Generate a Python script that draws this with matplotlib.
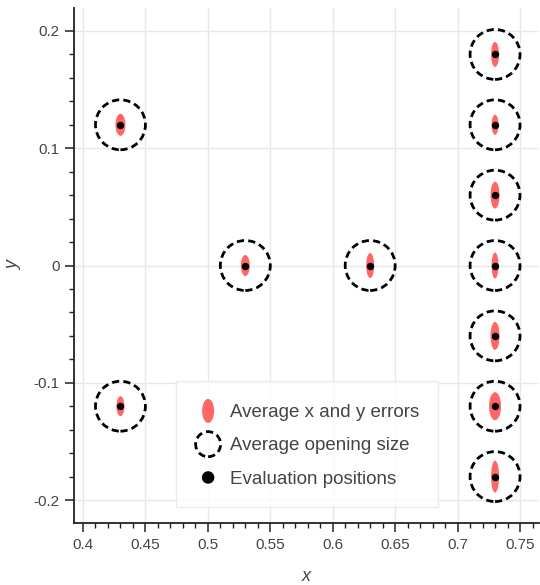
import matplotlib
matplotlib.use("Agg")
import matplotlib.pyplot as plt
from matplotlib.patches import Ellipse
from matplotlib.legend_handler import HandlerPatch
from matplotlib.ticker import MultipleLocator, FuncFormatter

# ---- data ----
x_pos = [0.43, 0.43, 0.53, 0.63, 0.73, 0.73, 0.73, 0.73, 0.73, 0.73, 0.73]
y_pos = [0.12, -0.12, 0.0, 0.0, 0.18, 0.12, 0.06, 0.0, -0.06, -0.12, -0.18]
x_err = [0.0080, 0.0064, 0.0072, 0.0064, 0.0064, 0.0056, 0.0072, 0.0056, 0.0072, 0.0096, 0.0064]
y_err = [0.0188, 0.0171, 0.0179, 0.0213, 0.0213, 0.0171, 0.0230, 0.0222, 0.0239, 0.0239, 0.0273]
opening = [0.04] * len(x_pos)
x_ticks = [0.4, 0.45, 0.5, 0.55, 0.6, 0.65, 0.7, 0.75]
y_ticks = [-0.2, -0.1, 0.0, 0.1, 0.2]
legend_labels = ["Average x and y errors", "Average opening size", "Evaluation positions"]

plt.rcParams['font.family'] = ['Liberation Sans', 'DejaVu Sans']

W, H = 540, 585
fig = plt.figure(figsize=(W / 100, H / 100), dpi=100)
L, R, B, T = 74, 539, 523, 8
ax = fig.add_axes([L / W, 1 - B / H, (R - L) / W, (B - T) / H])
xlim = (0.3928, 0.7652)
ylim = (-0.2196, 0.2196)
ax.set_xlim(*xlim)
ax.set_ylim(*ylim)

# aspect factor to make circles round on screen
px_per_x = (R - L) / (xlim[1] - xlim[0])
px_per_y = (B - T) / (ylim[1] - ylim[0])
ratio = px_per_x / px_per_y

red = '#ff6666'
dash_lw = 2.0
dash_style = (0, (2.6, 1.5))
for xi, yi, xe, ye, op in zip(x_pos, y_pos, x_err, y_err, opening):
    ax.add_patch(Ellipse((xi, yi), xe, ye, facecolor=red, edgecolor='none', zorder=3))
    ax.add_patch(Ellipse((xi, yi), op, op * ratio, facecolor='none', edgecolor='black',
                         lw=dash_lw, linestyle=dash_style, zorder=4))
ax.scatter(x_pos, y_pos, s=28, color='black', zorder=5, linewidths=0)

# axes styling (bokeh-like)
for s in ['top', 'right']:
    ax.spines[s].set_visible(False)
for s in ['left', 'bottom']:
    ax.spines[s].set_color('#222222')
    ax.spines[s].set_linewidth(1.3)
ax.set_xticks(x_ticks)
ax.set_yticks(y_ticks)
ax.xaxis.set_minor_locator(MultipleLocator(0.01))
ax.yaxis.set_minor_locator(MultipleLocator(0.02))
fmt = FuncFormatter(lambda v, p: ('%g' % round(v, 4)) if abs(v) > 1e-9 else '0')
ax.xaxis.set_major_formatter(fmt)
ax.yaxis.set_major_formatter(fmt)
ax.tick_params(which='major', direction='out', length=6.5, width=1.1, color='#222222',
               labelsize=11, labelcolor='#444444', pad=4)
ax.tick_params(which='minor', direction='out', length=3.6, width=1.0, color='#222222')
ax.grid(True, which='major', color='#e8e8e8', lw=1)
ax.set_axisbelow(True)
ax.set_xlabel('x', fontsize=13, style='italic', color='#444444', labelpad=12)
ax.set_ylabel('y', fontsize=13, style='italic', color='#444444', labelpad=8)

# legend
h1 = Ellipse((0, 0), 1, 1, facecolor=red, edgecolor='none')
h2 = Ellipse((0, 0), 1, 1, facecolor='none', edgecolor='black', lw=dash_lw,
             linestyle=dash_style)
h3 = Ellipse((0, 0), 1, 1, facecolor='black', edgecolor='none')

def make_patch(w_pt, h_pt):
    def f(legend, orig_handle, xdescent, ydescent, width, height, fontsize):
        cx = width / 2 - xdescent
        cy = height / 2 - ydescent
        return Ellipse((cx, cy), w_pt, h_pt)
    return f

leg = ax.legend([h1, h2, h3], legend_labels,
                handler_map={h1: HandlerPatch(patch_func=make_patch(8.6, 17.3)),
                             h2: HandlerPatch(patch_func=make_patch(18, 18)),
                             h3: HandlerPatch(patch_func=make_patch(9, 9))},
                loc='lower center', bbox_to_anchor=(0.501, 0.031), frameon=True,
                fancybox=False, fontsize=13.5, labelcolor='#444444',
                handlelength=1.4, handleheight=1.4, handletextpad=0.45,
                labelspacing=0.62, borderpad=1.0, borderaxespad=0)
leg.get_frame().set_edgecolor('#e8e8e8')
leg.get_frame().set_linewidth(1)
leg.set_zorder(10)

fig.savefig('out.png', dpi=100)
